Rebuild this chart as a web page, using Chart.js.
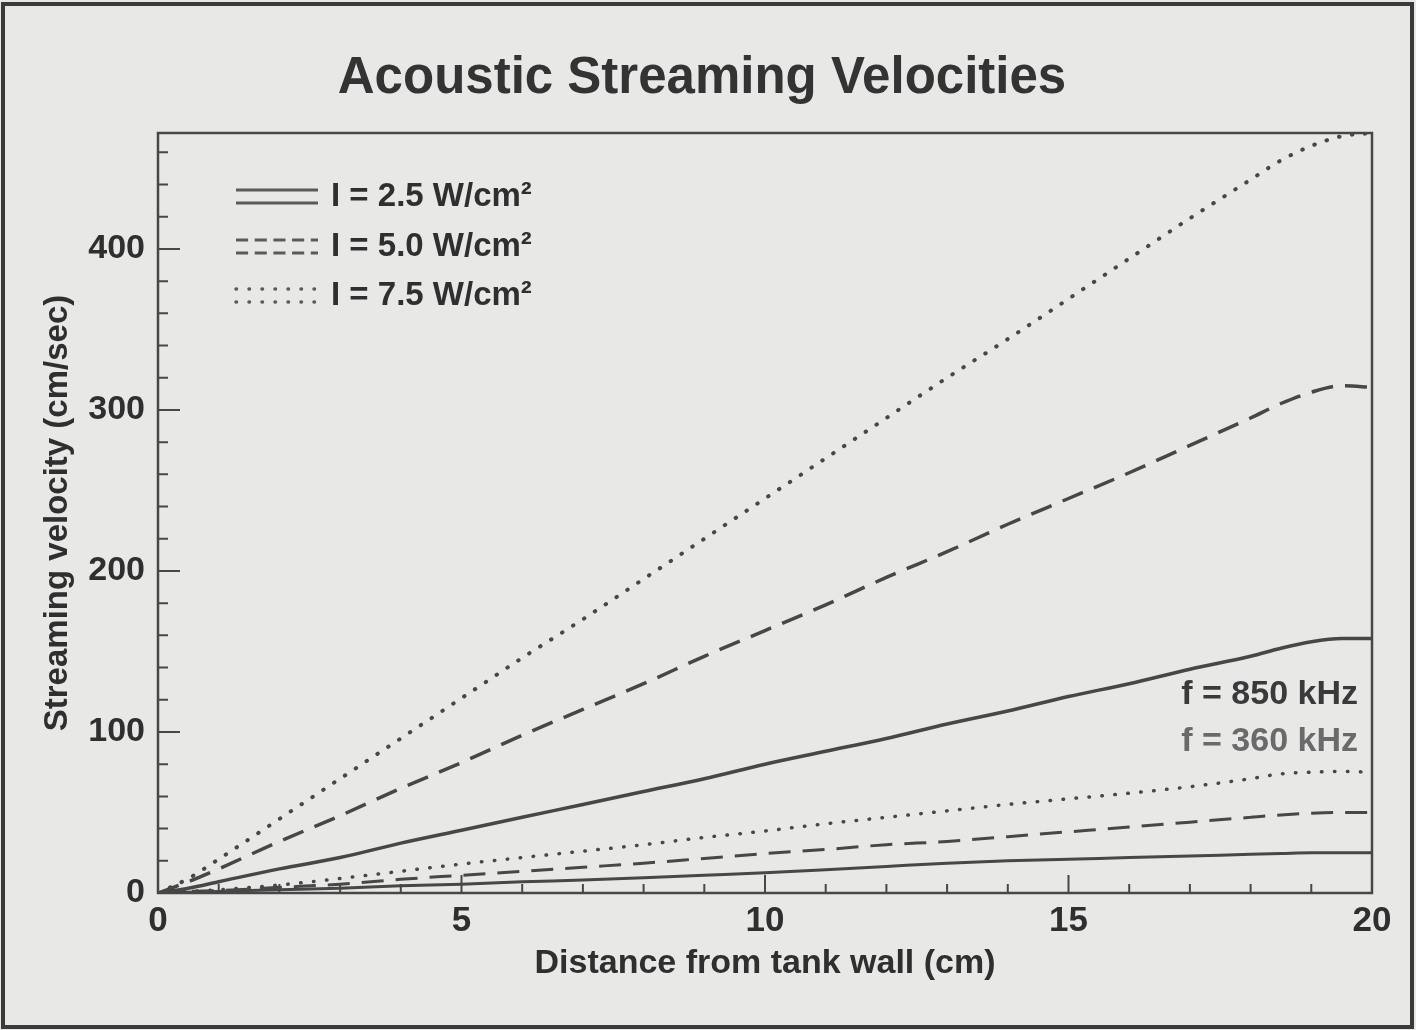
<!DOCTYPE html>
<html>
<head>
<meta charset="utf-8">
<title>Acoustic Streaming Velocities</title>
<script src="https://cdn.jsdelivr.net/npm/chart.js@4.4.1/dist/chart.umd.min.js"></script>
<style>
  html, body { margin: 0; padding: 0; background: #e8e8e6; }
  #wrap { width: 1416px; height: 1030px; position: relative; }
</style>
</head>
<body>
<div id="wrap"><canvas id="chart" width="1416" height="1030"></canvas></div>
<script>
// --- data ---
const distance = [0, 0.5, 1, 2, 3, 4, 5, 6, 7, 8, 9, 10, 11, 12, 13, 14, 15, 16, 17, 18, 18.5, 19, 19.5, 20];

// f = 850 kHz
const v850_75 = [0, 9, 21, 46, 71, 96, 121, 146, 170, 195, 220, 245, 270, 295, 320, 344, 369, 394, 419, 443, 455, 464, 470, 472];
const v850_50 = [0, 7, 15, 32, 48, 65, 81, 98, 114, 130, 147, 163, 179, 196, 212, 229, 245, 261, 278, 295, 304, 311, 315, 314];
const v850_25 = [0, 3, 7, 15, 22, 31, 39, 47, 55, 63, 71, 80, 88, 96, 105, 113, 122, 130, 139, 147, 152, 156, 158, 158];

// f = 360 kHz
const v360_75 = [0, 1, 2, 5, 9, 13.5, 18, 22, 26, 30, 34.5, 38.5, 43, 47, 51, 55, 58.5, 62, 66, 71, 74, 75, 75.5, 75];
const v360_50 = [0, 1, 1.5, 3.5, 5.5, 8.5, 11, 13.5, 16, 18.5, 21.5, 24.5, 27, 30, 32, 35, 38, 41, 44, 47, 48.5, 49.5, 50, 50];
const v360_25 = [0, 0.5, 1, 2, 3, 4.5, 5.5, 7, 8, 9.5, 11, 12.5, 14.5, 16.5, 18.5, 20, 21, 22, 23, 24, 24.5, 25, 25, 25];

const xTickLabels = [0, 5, 10, 15, 20];
const yTickLabels = [0, 100, 200, 300, 400];
const chartTitle = 'Acoustic Streaming Velocities';
const intensityLabels = ['I = 2.5 W/cm²', 'I = 5.0 W/cm²', 'I = 7.5 W/cm²'];
const freqLabels = ['f = 850 kHz', 'f = 360 kHz'];

// --- styling ---
const FONT = "'Liberation Sans', Arial, Helvetica, sans-serif";
const INK = '#474747';
const TEXT = '#2f2f2f';
const SOLID = [];
const DASH = [22, 12];
const DOT = [0.5, 12.5];

function pts(arr) {
    return distance.map((x, i) => ({ x: x, y: arr[i] }));
}

function series(label, arr, dash, width) {
    return {
        label: label,
        data: pts(arr),
        borderColor: INK,
        borderWidth: width,
        borderDash: dash,
        borderCapStyle: dash === DOT ? 'round' : 'butt',
        pointRadius: 0,
        fill: false,
        cubicInterpolationMode: 'monotone'
    };
}

// background + outer frame of the scanned figure
const paperPlugin = {
    id: 'paper',
    beforeDraw(chart) {
        const c = chart.ctx;
        c.save();
        c.fillStyle = '#e8e8e6';
        c.fillRect(0, 0, chart.width, chart.height);
        c.strokeStyle = '#3a3a3a';
        c.lineWidth = 4;
        c.strokeRect(3, 4, chart.width - 7, chart.height - 7);
        c.restore();
    }
};

// title, plot box, inward ticks, legend and frequency notes
const decorPlugin = {
    id: 'decor',
    afterDraw(chart) {
        const c = chart.ctx;
        const a = chart.chartArea;
        const xs = chart.scales.x, ys = chart.scales.y;
        c.save();

        c.font = 'bold 51px ' + FONT;
        c.fillStyle = '#333';
        c.textAlign = 'center';
        c.textBaseline = 'middle';
        c.fillText(chartTitle, 702, 79);

        c.strokeStyle = INK;
        c.lineWidth = 2.5;
        c.strokeRect(a.left, a.top, a.right - a.left, a.bottom - a.top);

        c.lineWidth = 2;
        c.beginPath();
        for (let v = xs.min; v <= xs.max; v += 1) {
            const px = xs.getPixelForValue(v);
            const len = xTickLabels.includes(v) ? 18 : 9;
            c.moveTo(px, a.bottom);
            c.lineTo(px, a.bottom - len);
        }
        for (let v = ys.min; v <= ys.max; v += 20) {
            const py = ys.getPixelForValue(v);
            const len = yTickLabels.includes(v) ? 22 : 10;
            c.moveTo(a.left, py);
            c.lineTo(a.left + len, py);
        }
        c.stroke();

        // legend: each sample shows both frequency curves
        const styles = [SOLID, DASH.map(d => d * 0.55), DOT];
        const rowY = [197, 247, 296];
        c.font = 'bold 33px ' + FONT;
        c.textAlign = 'left';
        intensityLabels.forEach((lab, i) => {
            c.setLineDash(styles[i]);
            c.lineCap = i === 2 ? 'round' : 'butt';
            c.lineWidth = i === 2 ? 3.5 : 3;
            c.strokeStyle = '#5a5a5a';
            [-7, 6].forEach(off => {
                c.beginPath();
                c.moveTo(236, rowY[i] + off);
                c.lineTo(318, rowY[i] + off);
                c.stroke();
            });
            c.setLineDash([]);
            c.fillStyle = TEXT;
            c.fillText(lab, 331, rowY[i]);
        });

        c.textAlign = 'right';
        c.font = 'bold 34px ' + FONT;
        c.fillStyle = '#3a3a3a';
        c.fillText(freqLabels[0], 1358, 695);
        c.fillStyle = '#6a6a6a';
        c.fillText(freqLabels[1], 1358, 742);
        c.restore();
    }
};

new Chart(document.getElementById('chart'), {
    type: 'line',
    data: {
        datasets: [
            series('850 kHz, I = 7.5', v850_75, DOT, 4),
            series('850 kHz, I = 5.0', v850_50, DASH, 3.5),
            series('850 kHz, I = 2.5', v850_25, SOLID, 3.5),
            series('360 kHz, I = 7.5', v360_75, DOT, 3.5),
            series('360 kHz, I = 5.0', v360_50, DASH, 3),
            series('360 kHz, I = 2.5', v360_25, SOLID, 3)
        ]
    },
    options: {
        responsive: false,
        animation: false,
        events: [],
        layout: { padding: { left: 0, right: 44, top: 133, bottom: 0 } },
        plugins: {
            legend: { display: false },
            tooltip: { enabled: false },
            title: { display: false }
        },
        scales: {
            x: {
                type: 'linear',
                min: 0,
                max: 20,
                grid: { display: false, drawTicks: false },
                border: { display: false },
                afterBuildTicks: s => { s.ticks = xTickLabels.map(v => ({ value: v })); },
                afterFit: s => { s.height = 137; },
                ticks: {
                    color: TEXT,
                    padding: 7,
                    maxRotation: 0,
                    font: { family: FONT, size: 35, weight: 'bold' }
                },
                title: {
                    display: true,
                    text: 'Distance from tank wall (cm)',
                    color: TEXT,
                    font: { family: FONT, size: 34, weight: 'bold' },
                    padding: { top: 0, bottom: 46 }
                }
            },
            y: {
                type: 'linear',
                min: 0,
                max: 472,
                grid: { display: false, drawTicks: false },
                border: { display: false },
                afterBuildTicks: s => { s.ticks = yTickLabels.map(v => ({ value: v })); },
                afterFit: s => { s.width = 158; },
                ticks: {
                    color: TEXT,
                    padding: 13,
                    font: { family: FONT, size: 34, weight: 'bold' }
                },
                title: {
                    display: true,
                    text: 'Streaming velocity (cm/sec)',
                    color: TEXT,
                    font: { family: FONT, size: 33, weight: 'bold' },
                    padding: { top: 38, bottom: 0 }
                }
            }
        }
    },
    plugins: [paperPlugin, decorPlugin]
});
</script>
</body>
</html>
